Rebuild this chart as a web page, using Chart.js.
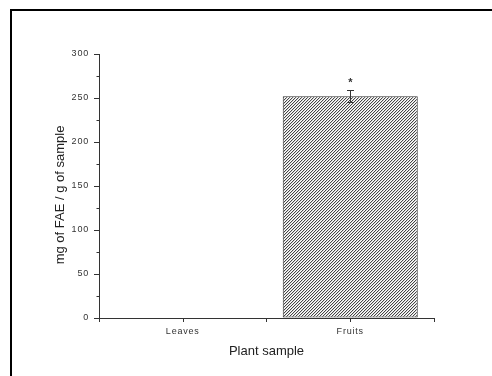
<!DOCTYPE html>
<html>
<head>
<meta charset="utf-8">
<script src="https://cdn.jsdelivr.net/npm/chart.js@4.4.4/dist/chart.umd.min.js"></script>
<style>
    html, body {margin: 0; padding: 0; background: #fff; overflow: hidden;}
    #wrap {position: relative; width: 492px; height: 376px;}
    #frame {
        position: absolute; left: 10px; top: 9px; right: -10px; bottom: -10px;
        border-top: 2px solid #000; border-left: 2px solid #000; pointer-events: none;
    }
</style>
</head>
<body>
<div id="wrap">
    <canvas id="chart" width="492" height="376"></canvas>
    <div id="frame"></div>
</div>
<script>
const categories = ["Leaves", "Fruits"];
const values = [0, 252];
const errors = [0, 7];
const marks = ["", "*"];
const yTicks = [0, 50, 100, 150, 200, 250, 300];

const yTitle = "mg of FAE / g of sample";
const xTitle = "Plant sample";
const FONT = "'Liberation Sans', Arial, sans-serif";

// diagonal hatch fill
function makeHatch() {
    const c = document.createElement("canvas");
    c.width = 3;
    c.height = 3;
    const g = c.getContext("2d");
    g.fillStyle = "#fff";
    g.fillRect(0, 0, 3, 3);
    g.fillStyle = "#454545";
    for (let i = 0; i < 3; i++) {
        g.fillRect(i, 2 - i, 1, 1);
    }
    g.fillStyle = "#d4d4d4";
    for (let i = 0; i < 3; i++) {
        g.fillRect(i, (3 - i) % 3, 1, 1);
    }
    return g.createPattern(c, "repeat");
}

const extras = {
    id: "extras",
    afterDatasetsDraw(chart) {
        // tick labels get drawn after this (ticks.z = 1), spaced out a bit
        chart.ctx.letterSpacing = "0.8px";
    },
    afterDraw(chart) {
        const ctx = chart.ctx;
        ctx.letterSpacing = "0px";
        const x = chart.scales.x, y = chart.scales.y;
        const area = chart.chartArea;
        ctx.save();
        ctx.strokeStyle = "#333";
        ctx.lineWidth = 1;

        // minor ticks on y axis
        const t = y.ticks.map(k => k.value);
        ctx.beginPath();
        for (let i = 0; i < t.length - 1; i++) {
            const py = Math.round(y.getPixelForValue((t[i] + t[i + 1]) / 2)) + 0.5;
            ctx.moveTo(area.left - 2.5, py);
            ctx.lineTo(area.left, py);
        }
        // ticks under category centres
        categories.forEach((c, i) => {
            const px = Math.round(x.getPixelForValue(i)) + 0.5;
            ctx.moveTo(px, area.bottom);
            ctx.lineTo(px, area.bottom + 4);
        });
        ctx.stroke();

        // error bars and significance marks
        const meta = chart.getDatasetMeta(0);
        ctx.fillStyle = "#333";
        ctx.font = "bold 11px " + FONT;
        ctx.textAlign = "center";
        ctx.textBaseline = "middle";
        values.forEach((v, i) => {
            if (!errors[i]) return;
            const px = Math.round(meta.data[i].x) + 0.5;
            const top = y.getPixelForValue(v + errors[i]);
            const bot = y.getPixelForValue(v - errors[i]);
            ctx.beginPath();
            ctx.moveTo(px, top);
            ctx.lineTo(px, bot);
            ctx.moveTo(px - 3.5, Math.round(top) + 0.5);
            ctx.lineTo(px + 3.5, Math.round(top) + 0.5);
            ctx.moveTo(px - 3.5, Math.round(bot) + 0.5);
            ctx.lineTo(px + 3.5, Math.round(bot) + 0.5);
            ctx.stroke();
            if (marks[i]) ctx.fillText(marks[i], px, top - 7);
        });

        // y axis title
        ctx.fillStyle = "#222";
        ctx.font = "13px " + FONT;
        ctx.translate(60, 195);
        ctx.rotate(-Math.PI / 2);
        ctx.fillText(yTitle, 0, 0);
        ctx.restore();
    }
};

const ctx = document.getElementById("chart").getContext("2d");
new Chart(ctx, {
    type: "bar",
    data: {
        labels: categories,
        datasets: [{
            data: values,
            backgroundColor: makeHatch(),
            borderColor: "#333",
            borderWidth: 1,
            borderSkipped: false,
            barPercentage: 0.806,
            categoryPercentage: 1
        }]
    },
    options: {
        responsive: false,
        animation: false,
        events: [],
        layout: {padding: {top: 54, right: 58, left: 0, bottom: 0}},
        plugins: {legend: {display: false}, tooltip: {enabled: false}},
        scales: {
            x: {
                offset: true,
                afterFit: s => { s.height = 58; },
                grid: {offset: true, drawOnChartArea: false, tickLength: 4, color: "#333"},
                border: {color: "#333", width: 1},
                ticks: {z: 1, padding: 4, color: "#333", font: {family: FONT, size: 9}},
                title: {
                    display: true, text: xTitle, color: "#222",
                    font: {family: FONT, size: 13, lineHeight: 1.2},
                    padding: {top: 0, bottom: 17}
                }
            },
            y: {
                min: 0,
                max: 300,
                afterFit: s => { s.width = 99; },
                afterBuildTicks: s => { s.ticks = yTicks.map(v => ({value: v})); },
                grid: {drawOnChartArea: false, tickLength: 5, color: "#333"},
                border: {color: "#333", width: 1},
                ticks: {z: 1, padding: 5, color: "#333", font: {family: FONT, size: 9}}
            }
        }
    },
    plugins: [extras]
});
</script>
</body>
</html>
